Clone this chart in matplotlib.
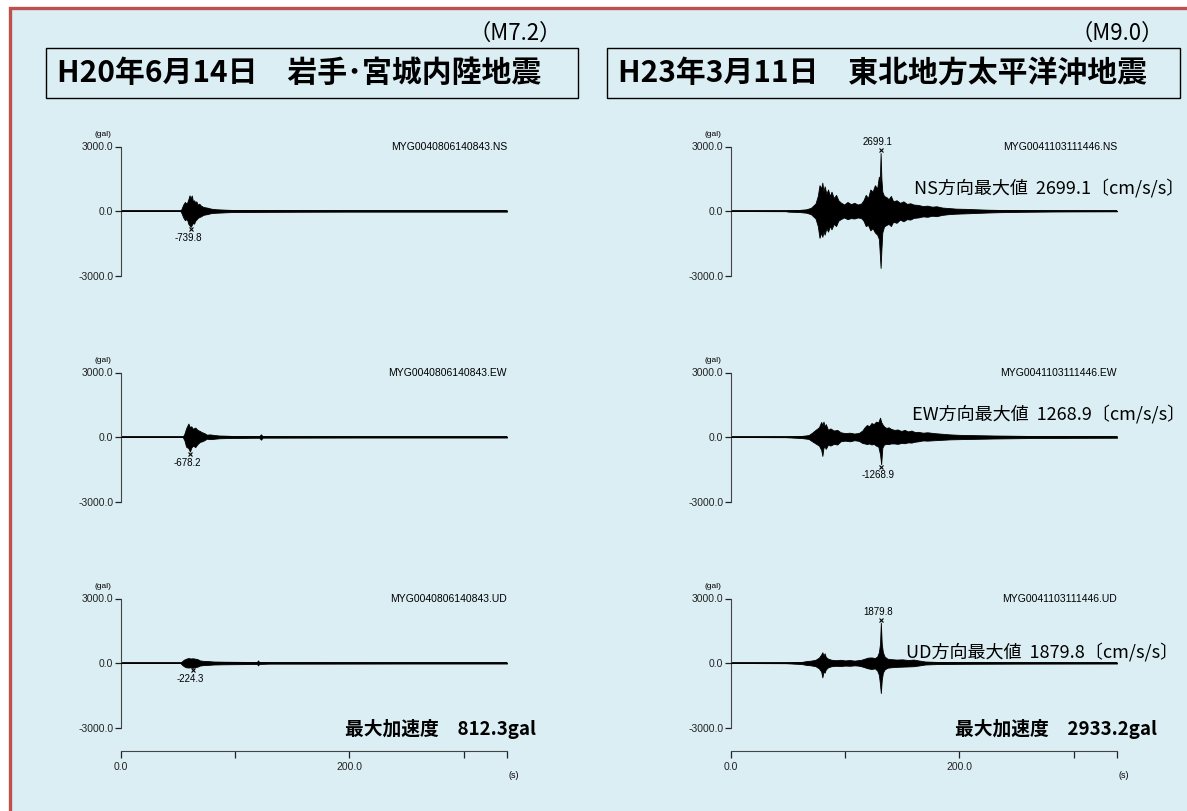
import numpy as np
import matplotlib
matplotlib.use('Agg')
import matplotlib.pyplot as plt
from matplotlib.patches import Rectangle

W, H = 1187, 811
plt.rcParams['font.family'] = ['Noto Sans CJK JP', 'DejaVu Sans']
SMALL = ['Liberation Sans', 'DejaVu Sans']

# ---- values ----
titles = ['H20年6月14日　岩手･宮城内陸地震', 'H23年3月11日　東北地方太平洋沖地震']
magnitudes = ['（M7.2）', '（M9.0）']
max_acc = ['最大加速度　812.3gal', '最大加速度　2933.2gal']
stations = [['MYG0040806140843.NS', 'MYG0040806140843.EW', 'MYG0040806140843.UD'],
            ['MYG0041103111446.NS', 'MYG0041103111446.EW', 'MYG0041103111446.UD']]
comp_notes = ['NS方向最大値  2699.1〔cm/s/s〕', 'EW方向最大値  1268.9〔cm/s/s〕',
              'UD方向最大値  1879.8〔cm/s/s〕']

# peak (time s, value gal) per trace
peak_t = [[61.0, 60.4, 63.0], [131.0, 131.5, 131.2]]
peak_v = [[-739.8, -678.2, -224.3], [2699.1, -1268.9, 1879.8]]

# rough envelopes of the traces (time s, upper gal, lower gal)
ns1_t = [0, 52, 53, 54.5, 56, 57, 58, 59, 60, 61, 62, 63, 64, 65, 66, 67, 68.5, 70,
         72, 74, 76, 78, 80, 84, 88, 92, 97, 110, 130, 155, 200, 250, 300, 338]
ns1_up = [0, 0, 100, 300, 420, 350, 400, 550, 730, 600, 720, 450, 500, 400, 450, 300,
          340, 250, 190, 170, 150, 120, 100, 80, 70, 60, 50, 45, 40, 35, 30, 30, 30, 30]
ns1_lo = [0, 0, -100, -300, -430, -380, -420, -600, -670, -739.8, -650, -550, -590,
          -450, -400, -330, -280, -250, -180, -160, -140, -110, -90, -80, -70, -60,
          -50, -45, -40, -35, -30, -30, -30, -30]

ew1_t = [0, 54, 55.5, 57, 59, 60.4, 61.5, 63, 65, 67, 69, 71, 73, 75, 78, 82, 86,
         92, 100, 110, 121, 122.6, 124, 140, 170, 210, 260, 300, 338]
ew1_up = [0, 0, 150, 400, 625, 450, 500, 380, 440, 330, 280, 220, 180, 110, 120, 90,
          70, 60, 45, 40, 35, 125, 30, 30, 28, 25, 25, 25, 25]
ew1_lo = [0, 0, -150, -450, -520, -678.2, -500, -400, -470, -330, -230, -200, -150,
          -80, -100, -80, -60, -50, -45, -40, -35, -125, -30, -30, -28, -25, -25, -25, -25]

ud1_t = [0, 52, 53, 55, 57, 59, 61, 63, 65, 67, 69, 72, 76, 81, 90, 100, 110, 119,
         120, 121, 130, 160, 200, 250, 300, 338]
ud1_up = [0, 0, 60, 150, 200, 230, 210, 220, 200, 180, 120, 100, 90, 70, 60, 55, 50,
          45, 120, 45, 30, 30, 28, 25, 25, 25]
ud1_lo = [0, 0, -60, -150, -200, -210, -200, -224.3, -190, -170, -120, -100, -90, -70,
          -60, -55, -50, -45, -110, -45, -30, -30, -28, -25, -25, -25]

ns2_t = [0, 48, 50, 60, 66, 70, 74, 76, 77.5, 79, 80, 81, 82, 83.5, 85, 86.5, 88, 90,
         92, 94, 96, 99, 102, 105, 108, 111, 114, 116, 118, 120, 122, 124, 126, 128,
         129.5, 130.3, 131, 131.7, 132.5, 134, 136, 138, 140, 142, 145, 148, 151, 154,
         157, 160, 164, 168, 172, 176, 180, 185, 190, 197, 205, 215, 225, 235, 245,
         260, 280, 300, 338]
ns2_up = [0, 10, 30, 50, 80, 150, 350, 700, 1200, 1050, 1320, 900, 1150, 800, 1000,
          700, 900, 600, 750, 500, 400, 300, 420, 320, 380, 300, 350, 500, 750, 600,
          1000, 900, 1200, 1050, 1600, 1300, 2699.1, 1500, 900, 700, 650, 550, 700,
          450, 500, 380, 450, 330, 360, 300, 280, 230, 250, 200, 220, 160, 140, 110,
          100, 80, 60, 50, 40, 30, 25, 20, 15]
ns2_lo = [0, -10, -30, -50, -80, -150, -350, -700, -1250, -1000, -1200, -950, -1100,
          -800, -960, -700, -850, -600, -700, -450, -380, -300, -380, -330, -350, -300,
          -330, -450, -700, -650, -900, -800, -1000, -1100, -1300, -2000, -2650,
          -1800, -1000, -720, -650, -600, -700, -500, -550, -400, -480, -380, -400,
          -320, -300, -250, -270, -220, -240, -180, -150, -125, -110, -90, -70, -55,
          -45, -35, -25, -20, -15]

ew2_t = [0, 48, 55, 62, 68, 71, 74, 77, 79, 80, 81, 82, 83, 85, 87, 90, 93, 96, 100,
         104, 108, 112, 115, 117, 119, 121, 123, 125, 127, 129, 130.5, 131.5, 132.5,
         134, 136, 138, 140, 143, 146, 149, 152, 155, 158, 161, 164, 168, 172, 178,
         185, 192, 200, 210, 220, 230, 245, 260, 280, 300, 338]
ew2_up = [0, 10, 30, 50, 90, 200, 330, 450, 700, 560, 715, 480, 600, 330, 400, 300,
          330, 220, 180, 200, 160, 190, 300, 450, 560, 500, 650, 600, 715, 680, 900,
          700, 600, 490, 420, 450, 380, 330, 350, 280, 330, 260, 300, 230, 240, 200,
          220, 180, 150, 120, 100, 90, 80, 70, 60, 50, 45, 40, 35]
ew2_lo = [0, -10, -30, -50, -90, -200, -300, -400, -600, -880, -500, -450, -550, -350,
          -400, -320, -350, -200, -170, -200, -150, -180, -280, -300, -330, -300, -350,
          -320, -400, -450, -800, -1268.9, -500, -350, -320, -330, -300, -300, -320,
          -280, -290, -250, -260, -220, -200, -160, -170, -150, -130, -110, -100, -90,
          -80, -70, -60, -50, -45, -40, -35]

ud2_t = [0, 48, 55, 62, 66, 70, 74, 77, 79, 80, 81, 82, 83, 85, 88, 92, 96, 100, 104,
         108, 111, 114, 117, 120, 123, 126, 128, 129.5, 130.5, 131.2, 132, 133, 134.5,
         137, 140, 145, 150, 155, 160, 164, 170, 180, 190, 200, 220, 250, 280, 338]
ud2_up = [0, 10, 30, 50, 90, 110, 150, 250, 400, 500, 350, 450, 280, 200, 150, 130,
          150, 120, 140, 110, 130, 150, 200, 250, 260, 230, 300, 500, 900, 1879.8, 900,
          500, 300, 200, 180, 160, 170, 140, 160, 120, 70, 50, 45, 40, 35, 30, 28, 25]
ud2_lo = [0, -10, -30, -50, -90, -110, -150, -250, -400, -670, -400, -450, -300, -200,
          -150, -130, -140, -120, -130, -110, -120, -150, -200, -250, -280, -250, -350,
          -550, -1000, -1400, -800, -450, -300, -220, -200, -180, -170, -160, -150,
          -120, -70, -50, -45, -40, -35, -30, -28, -25]

waves = [[(ns1_t, ns1_up, ns1_lo), (ew1_t, ew1_up, ew1_lo), (ud1_t, ud1_up, ud1_lo)],
         [(ns2_t, ns2_up, ns2_lo), (ew2_t, ew2_up, ew2_lo), (ud2_t, ud2_up, ud2_lo)]]

T_END = 338
YLIM = 3500

# ---- layout (pixels) ----
col_x0 = [121, 731]
row_zero = [211, 437, 663]
ax_w = 386
half_h = 64.5 * YLIM / 3000


def fx(px):
    return px / W


def fy(py):
    return 1 - py / H


fig = plt.figure(figsize=(W / 100, H / 100), dpi=100, facecolor='white')

# background panel with red frame
fig.add_artist(Rectangle((fx(10), -0.02), 1.1, fy(8) + 0.02, transform=fig.transFigure,
                         facecolor='#dbeef4', edgecolor='#c0504d', lw=2.4, zorder=-10))

# titles
box_x = [(46, 578), (607, 1180)]
for c in range(2):
    x0, x1 = box_x[c]
    fig.add_artist(Rectangle((fx(x0), fy(98)), fx(x1) - fx(x0), fy(48) - fy(98),
                             transform=fig.transFigure, fill=False, edgecolor='black',
                             lw=1.0))
    fig.text(fx(x0 + 11), fy(73), titles[c], fontsize=21.5, fontweight='bold',
             ha='left', va='center')
    fig.text(fx(x1 - 16), fy(33), magnitudes[c], fontsize=16, ha='right', va='center')

for c in range(2):
    for r in range(3):
        z = row_zero[r]
        ax = fig.add_axes([fx(col_x0[c]), fy(z + half_h), ax_w / W, 2 * half_h / H])
        ax.set_facecolor('none')
        ax.set_xlim(0, T_END)
        ax.set_ylim(-YLIM, YLIM)
        for s in ['top', 'right']:
            ax.spines[s].set_visible(False)
        ax.spines['left'].set_bounds(-3000, 3000)
        ax.spines['left'].set_color('#444444')
        ax.set_yticks([-3000, 0, 3000])
        ax.set_yticklabels(['%.1f' % v for v in [-3000, 0, 3000]], fontsize=7.5,
                           family=SMALL)
        ax.tick_params(axis='y', direction='out', length=4.5, width=0.9, pad=1,
                       colors='#222222')

        t, up, lo = waves[c][r]
        ax.plot([0, T_END], [0, 0], color='black', lw=1.3, zorder=2)
        ax.fill_between(t, lo, up, color='black', lw=0.6, zorder=3)

        # peak marker and value
        pt, pv = peak_t[c][r], peak_v[c][r]
        sgn = 1 if pv > 0 else -1
        ax.plot([pt], [pv + sgn * 120], marker='x', ms=3, mew=0.8, color='black',
                zorder=4)
        ax.annotate('%.1f' % pv, (pt, pv + sgn * 120), xytext=(-2, sgn * 2.5),
                    textcoords='offset points', ha='center',
                    va='bottom' if sgn > 0 else 'top', fontsize=7, family=SMALL)

        ax.text(T_END, 3000, stations[c][r], ha='right', va='center', fontsize=7.5,
                family=SMALL)
        ax.text(-16, 3000 + 560, '(gal)', ha='center', va='center', fontsize=6,
                family=SMALL)

        if r < 2:
            ax.spines['bottom'].set_visible(False)
            ax.set_xticks([])
        else:
            ax.spines['bottom'].set_position(('outward', (751 - z - half_h) * 0.72))
            ax.spines['bottom'].set_bounds(0, T_END)
            ax.spines['bottom'].set_color('#444444')
            ax.set_xticks([0, 100, 200, 300, T_END])
            ax.set_xticklabels(['0.0', '', '200.0', '', ''], fontsize=7.5, family=SMALL)
            ax.tick_params(axis='x', direction='out', length=5, width=0.9, pad=3,
                           colors='#222222')

    fig.text(fx(col_x0[c] + ax_w + 7), fy(776), '(s)', fontsize=6.5, family=SMALL,
             ha='center', va='center')
    fig.text(fx(col_x0[c] + 224), fy(729), max_acc[c], fontsize=13.5, fontweight='bold',
             ha='left', va='center')

# component peak notes on the right column
note_x = [914, 912, 906]
note_y = [189, 415, 653]
for r in range(3):
    fig.text(fx(note_x[r]), fy(note_y[r]), comp_notes[r], fontsize=13,
             ha='left', va='center')

fig.savefig('out.png', dpi=100, facecolor='white')
